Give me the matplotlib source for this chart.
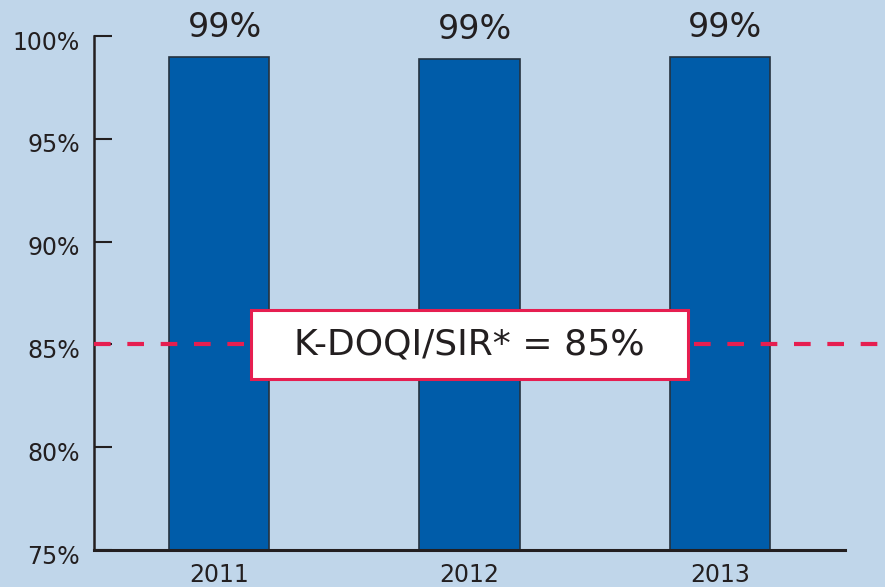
import matplotlib
matplotlib.use("Agg")
import matplotlib.pyplot as plt
from matplotlib.patches import Rectangle
from matplotlib.transforms import ScaledTranslation
import numpy as np

years = ["2011", "2012", "2013"]
rates = [99.0, 98.9, 99.0]
value_labels = ["99%", "99%", "99%"]
target = 85
target_label = "K-DOQI/SIR* = 85%"
yticks = [75, 80, 85, 90, 95, 100]

BG = "#c0d6ea"
BAR = "#005ca9"
RED = "#e61e50"
INK = "#231f20"

plt.rcParams["font.family"] = ["DejaVu Sans"]

fig = plt.figure(figsize=(8.85, 5.87), dpi=100, facecolor=BG)
ax = fig.add_axes([94 / 885, 37 / 587, 751 / 885, 514 / 587])
ax.set_facecolor(BG)

x = np.arange(len(years))
ax.bar(x, rates, width=0.402, bottom=0, color=BAR, edgecolor="#26323f",
       linewidth=1.2, zorder=2)
ax.set_xlim(-0.5, 2.5)
ax.set_ylim(75, 100)

for xi, r, lab in zip(x, rates, value_labels):
    ax.annotate(lab, (xi, r), xytext=(4, 9), textcoords="offset points",
                ha="center", va="bottom", fontsize=24, color=INK)

# target line runs past the axes to the figure edge
ax.axhline(target, xmin=0, xmax=(885 - 94) / 751, color=RED, lw=3,
           dashes=(4, 4), clip_on=False, zorder=3)
bw, bh = 1.746, 3.36
ax.add_patch(Rectangle((1 - bw / 2, target - bh / 2), bw, bh, facecolor="white",
                       edgecolor=RED, lw=2.2, zorder=4))
ax.text(1, target, target_label, ha="center", va="center", fontsize=26,
        color=INK, zorder=5)

ax.set_xticks(x)
ax.set_xticklabels(years)
ax.set_yticks(yticks)
ax.set_yticklabels([f"{t}%" for t in yticks])
ax.tick_params(axis="y", direction="in", length=13, width=1.5, pad=10,
               labelsize=17, colors=INK)
ax.tick_params(axis="x", length=0, pad=9, labelsize=17, colors=INK)
shift = ScaledTranslation(0, -3 / 72, fig.dpi_scale_trans)
for lbl in ax.get_yticklabels():
    lbl.set_transform(lbl.get_transform() + shift)

for s in ("top", "right"):
    ax.spines[s].set_visible(False)
ax.spines["left"].set_linewidth(1.8)
ax.spines["bottom"].set_linewidth(2.2)
ax.spines["left"].set_color(INK)
ax.spines["bottom"].set_color(INK)

fig.savefig("out.png", dpi=100, facecolor=BG)
